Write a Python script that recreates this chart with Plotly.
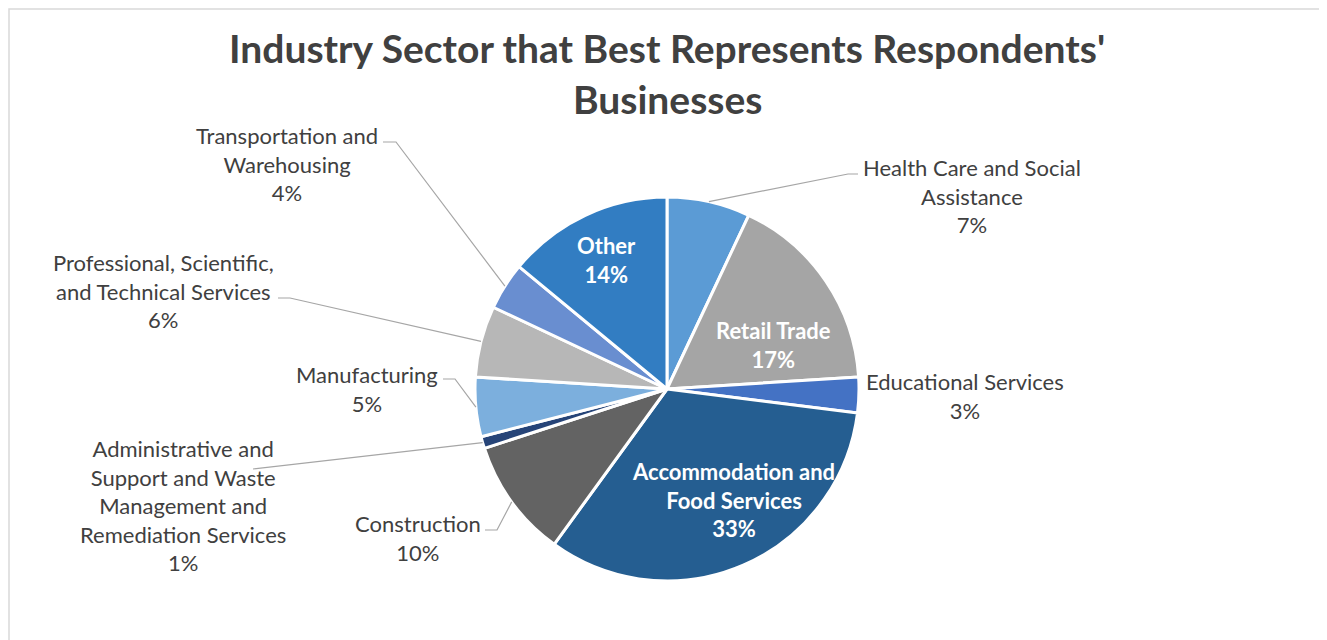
import math
import plotly.graph_objects as go

# the page puts the figure 8px in from the top-left corner of the window,
# so the figure is drawn 8px smaller and the pixel axes start at 8
OFF = 8
W, H = 1327 - OFF, 640 - OFF

sectors = [
    "Health Care and Social Assistance",
    "Retail Trade",
    "Educational Services",
    "Accommodation and Food Services",
    "Construction",
    "Administrative and Support and Waste Management and Remediation Services",
    "Manufacturing",
    "Professional, Scientific, and Technical Services",
    "Transportation and Warehousing",
    "Other",
]
shares = [7, 17, 3, 33, 10, 1, 5, 6, 4, 14]
colors = ["#5B9BD5", "#A5A5A5", "#4472C4", "#255E91", "#636363",
          "#264478", "#7CAFDD", "#B7B7B7", "#698ED0", "#327DC2"]

# line breaks as in the original labels
wrapped = {
    "Health Care and Social Assistance": "Health Care and Social<br>Assistance",
    "Retail Trade": "Retail Trade",
    "Educational Services": "Educational Services",
    "Accommodation and Food Services": "Accommodation and<br>Food Services",
    "Construction": "Construction",
    "Administrative and Support and Waste Management and Remediation Services":
        "Administrative and<br>Support and Waste<br>Management and<br>Remediation Services",
    "Manufacturing": "Manufacturing",
    "Professional, Scientific, and Technical Services":
        "Professional, Scientific,<br>and Technical Services",
    "Transportation and Warehousing": "Transportation and<br>Warehousing",
    "Other": "Other",
}

# pie placement (window pixels)
cx, cy, R = 667, 389, 192

# labels drawn on the slices: block centre (window pixels)
inside = {
    "Retail Trade": (773, 345),
    "Accommodation and Food Services": (733, 500),
    "Other": (606, 260),
}

# outside labels: block centre and leader elbow points (window pixels)
outside = {
    "Health Care and Social Assistance": ((972, 196), [(858, 174), (848, 174)]),
    "Educational Services": ((965, 396), []),
    "Construction": ((418, 538), [(485, 530), (497, 530)]),
    "Administrative and Support and Waste Management and Remediation Services":
        ((183, 505), [(253, 469)]),
    "Manufacturing": ((367, 389), [(443, 379), (455, 379)]),
    "Professional, Scientific, and Technical Services": ((163, 291), [(278, 298), (290, 298)]),
    "Transportation and Warehousing": ((287, 164), [(383, 142), (396, 142)]),
}

FONT = "Lato, 'Open Sans', sans-serif"
TXT = "#404040"

fig = go.Figure()
fig.add_trace(go.Pie(
    labels=sectors,
    values=shares,
    textinfo="none",
    marker=dict(colors=colors, line=dict(color="white", width=3)),
    sort=False,
    direction="clockwise",
    rotation=0,
    showlegend=False,
    hoverinfo="label+percent",
    domain=dict(x=[(cx - R - OFF) / W, (cx + R - OFF) / W],
                y=[(H + OFF - cy - R) / H, (H + OFF - cy + R) / H]),
))

# invisible pixel axes for labels and leader lines
fig.update_xaxes(range=[OFF, OFF + W], visible=False, fixedrange=True)
fig.update_yaxes(range=[OFF + H, OFF], visible=False, fixedrange=True)
fig.add_trace(go.Scatter(x=[OFF, OFF + W], y=[OFF, OFF + H], mode="markers",
                         marker=dict(opacity=0), hoverinfo="skip", showlegend=False))

total = sum(shares)
cum = 0
for s, v in zip(sectors, shares):
    mid = 2 * math.pi * (cum + v / 2) / total
    cum += v
    pct = round(100 * v / total)
    if s in inside:
        lx, ly = inside[s]
        fig.add_annotation(x=lx, y=ly, xref="x", yref="y", showarrow=False,
                           text=f"<b>{wrapped[s]}<br>{pct}%</b>", align="center",
                           font=dict(family=FONT, size=22, color="white"))
        continue
    (lx, ly), elbow = outside[s]
    fig.add_annotation(x=lx, y=ly, xref="x", yref="y", showarrow=False,
                       text=f"{wrapped[s]}<br>{pct}%", align="center",
                       font=dict(family=FONT, size=22, color=TXT))
    if elbow:
        px = cx + R * math.sin(mid)
        py = cy - R * math.cos(mid)
        pts = elbow + [(px, py)]
        path = "M " + " L ".join(f"{x:.1f},{y:.1f}" for x, y in pts)
        fig.add_shape(type="path", path=path, xref="x", yref="y",
                      line=dict(color="#A6A6A6", width=1.2))

# title, two lines
fig.add_annotation(x=667, y=48, xref="x", yref="y", showarrow=False,
                   text="<b>Industry Sector that Best Represents Respondents'</b>",
                   font=dict(family=FONT, size=39, color=TXT))
fig.add_annotation(x=667, y=99, xref="x", yref="y", showarrow=False,
                   text="<b>Businesses</b>",
                   font=dict(family=FONT, size=39, color=TXT))

# chart border
fig.add_shape(type="path", xref="x", yref="y",
              path=f"M 9,{OFF + H + 5} L 9,9 L 1323,9 L 1323,{OFF + H + 5}",
              line=dict(color="#D9D9D9", width=1.5))

fig.update_layout(
    width=W, height=H,
    margin=dict(l=0, r=0, t=0, b=0),
    paper_bgcolor="white", plot_bgcolor="white",
)

fig.write_html("out.html")
